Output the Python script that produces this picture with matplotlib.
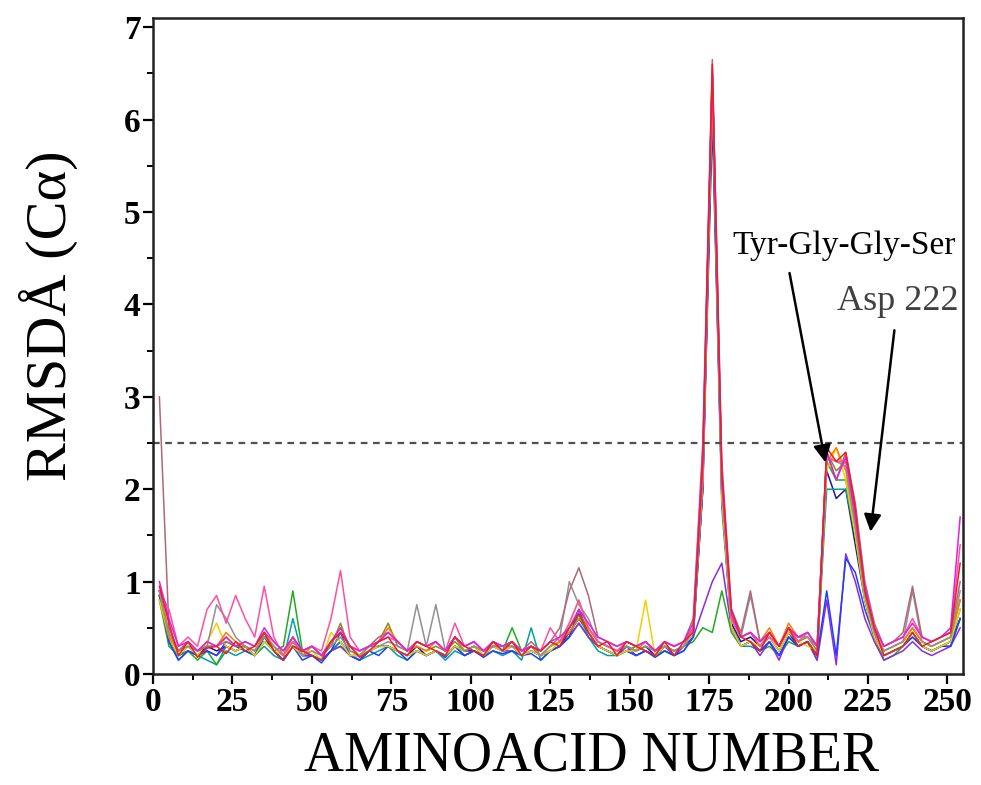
import numpy as np
import matplotlib
matplotlib.use("Agg")
import matplotlib.pyplot as plt
from matplotlib.ticker import MultipleLocator

plt.rcParams['font.family'] = ['Liberation Serif', 'DejaVu Serif']

# residue numbers (sampled every 3 residues)
residues = np.arange(2, 256, 3)

red = [0.95, 0.55, 0.2, 0.35, 0.18, 0.28, 0.3, 0.22, 0.35, 0.25,
       0.3, 0.45, 0.25, 0.15, 0.3, 0.25, 0.2, 0.15, 0.35, 0.45,
       0.3, 0.18, 0.25, 0.35, 0.4, 0.25, 0.2, 0.35, 0.3, 0.25,
       0.2, 0.4, 0.3, 0.25, 0.2, 0.35, 0.25, 0.35, 0.2, 0.3,
       0.25, 0.35, 0.3, 0.5, 0.65, 0.45, 0.3, 0.35, 0.2, 0.35,
       0.3, 0.25, 0.2, 0.35, 0.2, 0.35, 0.45, 2.3, 6.6, 2.2,
       0.7, 0.4, 0.35, 0.25, 0.45, 0.3, 0.5, 0.3, 0.35, 0.2,
       2.45, 2.3, 2.4, 1.8, 0.9, 0.5, 0.2, 0.25, 0.3, 0.45,
       0.3, 0.35, 0.4, 0.45, 1.2]
blue = [0.85, 0.35, 0.15, 0.25, 0.2, 0.25, 0.2, 0.35, 0.3, 0.25,
        0.2, 0.45, 0.25, 0.15, 0.3, 0.15, 0.2, 0.12, 0.25, 0.45,
        0.2, 0.15, 0.25, 0.2, 0.3, 0.25, 0.15, 0.25, 0.2, 0.25,
        0.18, 0.3, 0.2, 0.25, 0.18, 0.25, 0.22, 0.25, 0.2, 0.22,
        0.15, 0.25, 0.3, 0.4, 0.7, 0.45, 0.3, 0.25, 0.2, 0.25,
        0.2, 0.25, 0.18, 0.25, 0.2, 0.25, 0.4, 2.0, 6.3, 1.9,
        0.5, 0.3, 0.35, 0.25, 0.35, 0.2, 0.4, 0.3, 0.35, 0.2,
        0.9, 0.2, 1.25, 1.1, 0.7, 0.4, 0.2, 0.25, 0.3, 0.4,
        0.3, 0.25, 0.3, 0.3, 0.6]
green = [0.8, 0.3, 0.2, 0.25, 0.15, 0.25, 0.1, 0.3, 0.25, 0.3,
         0.2, 0.35, 0.25, 0.3, 0.9, 0.25, 0.2, 0.15, 0.25, 0.3,
         0.2, 0.15, 0.25, 0.3, 0.3, 0.25, 0.2, 0.25, 0.2, 0.25,
         0.2, 0.3, 0.25, 0.3, 0.2, 0.35, 0.25, 0.5, 0.25, 0.3,
         0.2, 0.25, 0.3, 0.4, 0.55, 0.4, 0.3, 0.25, 0.2, 0.25,
         0.3, 0.25, 0.2, 0.25, 0.2, 0.3, 0.35, 0.5, 0.45, 0.9,
         0.45, 0.3, 0.35, 0.25, 0.3, 0.2, 0.35, 0.3, 0.35, 0.15,
         2.3, 2.1, 2.1, 1.5, 0.8, 0.4, 0.15, 0.2, 0.3, 0.45,
         0.3, 0.25, 0.3, 0.35, 0.7]
magenta = [1.0, 0.6, 0.3, 0.35, 0.25, 0.35, 0.3, 0.4, 0.3, 0.35,
           0.3, 0.5, 0.35, 0.25, 0.4, 0.25, 0.3, 0.2, 0.35, 0.5,
           0.3, 0.25, 0.3, 0.35, 0.45, 0.35, 0.25, 0.35, 0.3, 0.35,
           0.25, 0.4, 0.3, 0.35, 0.25, 0.35, 0.3, 0.35, 0.25, 0.3,
           0.25, 0.35, 0.4, 0.5, 0.7, 0.55, 0.4, 0.35, 0.3, 0.35,
           0.3, 0.35, 0.25, 0.35, 0.3, 0.35, 0.55, 2.4, 6.5, 2.1,
           0.65, 0.4, 0.45, 0.35, 0.45, 0.3, 0.5, 0.4, 0.45, 0.3,
           2.4, 2.1, 2.35, 1.7, 0.95, 0.5, 0.3, 0.35, 0.4, 0.55,
           0.4, 0.35, 0.4, 0.5, 1.7]
orange = [0.9, 0.4, 0.25, 0.3, 0.25, 0.35, 0.3, 0.45, 0.35, 0.3,
          0.25, 0.45, 0.3, 0.2, 0.4, 0.2, 0.3, 0.2, 0.35, 0.5,
          0.3, 0.2, 0.3, 0.35, 0.5, 0.35, 0.25, 0.3, 0.25, 0.35,
          0.25, 0.4, 0.25, 0.3, 0.25, 0.3, 0.3, 0.35, 0.25, 0.3,
          0.2, 0.3, 0.35, 0.45, 0.6, 0.5, 0.35, 0.3, 0.25, 0.3,
          0.25, 0.35, 0.25, 0.3, 0.25, 0.3, 0.5, 2.1, 6.4, 2.0,
          0.6, 0.4, 0.45, 0.35, 0.5, 0.3, 0.55, 0.4, 0.4, 0.3,
          2.3, 2.45, 2.2, 1.6, 0.85, 0.45, 0.25, 0.3, 0.35, 0.5,
          0.35, 0.3, 0.35, 0.4, 0.8]
purple = [0.9, 0.4, 0.2, 0.3, 0.2, 0.25, 0.2, 0.3, 0.25, 0.3,
          0.2, 0.35, 0.25, 0.15, 0.3, 0.2, 0.2, 0.15, 0.25, 0.3,
          0.2, 0.15, 0.25, 0.3, 0.3, 0.25, 0.2, 0.25, 0.2, 0.25,
          0.2, 0.3, 0.2, 0.25, 0.2, 0.3, 0.25, 0.25, 0.2, 0.25,
          0.2, 0.25, 0.3, 0.4, 0.55, 0.4, 0.3, 0.25, 0.2, 0.3,
          0.2, 0.25, 0.2, 0.3, 0.2, 0.3, 0.4, 0.7, 1.0, 1.2,
          0.5, 0.3, 0.35, 0.2, 0.35, 0.15, 0.4, 0.3, 0.35, 0.15,
          0.8, 0.1, 1.3, 1.0, 0.6, 0.35, 0.15, 0.2, 0.25, 0.35,
          0.25, 0.2, 0.25, 0.3, 0.5]
hotpink = [0.9, 0.7, 0.3, 0.4, 0.3, 0.7, 0.85, 0.55, 0.85, 0.6,
           0.4, 0.95, 0.4, 0.2, 0.35, 0.25, 0.3, 0.25, 0.6, 1.12,
           0.4, 0.25, 0.3, 0.35, 0.4, 0.35, 0.25, 0.35, 0.3, 0.35,
           0.25, 0.55, 0.3, 0.35, 0.25, 0.35, 0.3, 0.35, 0.25, 0.3,
           0.25, 0.5, 0.35, 0.55, 0.8, 0.5, 0.35, 0.3, 0.25, 0.35,
           0.3, 0.35, 0.25, 0.35, 0.3, 0.35, 0.5, 2.2, 6.55, 2.1,
           0.6, 0.4, 0.45, 0.3, 0.4, 0.3, 0.5, 0.35, 0.45, 0.3,
           2.35, 2.3, 2.3, 1.75, 0.9, 0.5, 0.3, 0.35, 0.4, 0.6,
           0.4, 0.35, 0.4, 0.45, 1.4]
rosybrown = [3.0, 0.5, 0.25, 0.35, 0.25, 0.3, 0.3, 0.35, 0.3, 0.35,
             0.3, 0.45, 0.35, 0.25, 0.4, 0.25, 0.3, 0.2, 0.35, 0.45,
             0.3, 0.25, 0.3, 0.4, 0.45, 0.35, 0.25, 0.35, 0.3, 0.35,
             0.25, 0.4, 0.3, 0.35, 0.25, 0.35, 0.3, 0.35, 0.25, 0.35,
             0.25, 0.35, 0.5, 0.9, 1.15, 0.85, 0.4, 0.35, 0.3, 0.35,
             0.3, 0.35, 0.25, 0.35, 0.3, 0.35, 0.6, 2.5, 6.65, 2.3,
             0.7, 0.45, 0.9, 0.35, 0.45, 0.3, 0.5, 0.4, 0.45, 0.3,
             2.4, 2.1, 2.4, 1.85, 1.0, 0.55, 0.3, 0.35, 0.45, 0.95,
             0.4, 0.35, 0.4, 0.45, 1.0]
yellow = [0.8, 0.4, 0.2, 0.3, 0.2, 0.35, 0.55, 0.3, 0.25, 0.3,
          0.2, 0.35, 0.25, 0.2, 0.3, 0.2, 0.25, 0.15, 0.45, 0.35,
          0.2, 0.2, 0.25, 0.3, 0.3, 0.25, 0.2, 0.25, 0.2, 0.25,
          0.2, 0.3, 0.25, 0.3, 0.2, 0.3, 0.25, 0.3, 0.2, 0.25,
          0.2, 0.25, 0.35, 0.55, 0.8, 0.45, 0.3, 0.25, 0.2, 0.25,
          0.25, 0.8, 0.2, 0.3, 0.25, 0.3, 0.45, 2.1, 6.4, 1.9,
          0.5, 0.3, 0.35, 0.3, 0.4, 0.25, 0.45, 0.35, 0.3, 0.25,
          2.2, 2.45, 2.1, 1.5, 0.8, 0.4, 0.2, 0.25, 0.3, 0.45,
          0.3, 0.25, 0.3, 0.35, 0.7]
teal = [0.85, 0.35, 0.15, 0.25, 0.2, 0.15, 0.1, 0.25, 0.2, 0.25,
        0.2, 0.3, 0.2, 0.15, 0.6, 0.2, 0.2, 0.15, 0.25, 0.35,
        0.2, 0.15, 0.2, 0.25, 0.3, 0.2, 0.15, 0.25, 0.2, 0.25,
        0.15, 0.25, 0.2, 0.25, 0.2, 0.25, 0.2, 0.25, 0.15, 0.5,
        0.15, 0.25, 0.3, 0.4, 0.65, 0.4, 0.25, 0.2, 0.2, 0.25,
        0.2, 0.25, 0.2, 0.25, 0.2, 0.25, 0.4, 2.0, 6.2, 1.8,
        0.5, 0.3, 0.3, 0.25, 0.35, 0.2, 0.4, 0.3, 0.35, 0.2,
        2.0, 2.0, 2.0, 1.5, 0.85, 0.4, 0.2, 0.25, 0.3, 0.4,
        0.3, 0.25, 0.3, 0.3, 0.6]
gray = [0.9, 0.45, 0.25, 0.3, 0.25, 0.3, 0.75, 0.6, 0.4, 0.3,
        0.25, 0.4, 0.3, 0.2, 0.35, 0.2, 0.25, 0.2, 0.3, 0.4,
        0.25, 0.2, 0.3, 0.3, 0.35, 0.3, 0.25, 0.75, 0.3, 0.75,
        0.25, 0.4, 0.25, 0.3, 0.25, 0.3, 0.3, 0.3, 0.25, 0.3,
        0.2, 0.3, 0.4, 1.0, 0.75, 0.6, 0.35, 0.3, 0.25, 0.3,
        0.25, 0.3, 0.25, 0.3, 0.25, 0.3, 0.5, 2.3, 6.5, 2.1,
        0.6, 0.4, 0.85, 0.35, 0.45, 0.3, 0.5, 0.4, 0.4, 0.3,
        2.35, 2.3, 2.25, 1.6, 0.85, 0.45, 0.25, 0.3, 0.35, 0.9,
        0.35, 0.3, 0.35, 0.4, 0.9]
navy = [0.85, 0.4, 0.2, 0.25, 0.2, 0.3, 0.25, 0.3, 0.25, 0.3,
        0.2, 0.4, 0.25, 0.15, 0.3, 0.2, 0.2, 0.15, 0.25, 0.35,
        0.2, 0.2, 0.25, 0.3, 0.3, 0.25, 0.2, 0.3, 0.2, 0.25,
        0.2, 0.3, 0.25, 0.25, 0.2, 0.3, 0.25, 0.3, 0.2, 0.25,
        0.2, 0.25, 0.3, 0.45, 0.6, 0.45, 0.3, 0.25, 0.2, 0.3,
        0.25, 0.3, 0.2, 0.3, 0.25, 0.3, 0.45, 2.0, 6.0, 1.9,
        0.55, 0.35, 0.4, 0.3, 0.4, 0.25, 0.45, 0.3, 0.35, 0.2,
        2.2, 1.9, 2.0, 1.4, 0.8, 0.4, 0.2, 0.25, 0.3, 0.45,
        0.3, 0.25, 0.3, 0.35, 0.6]
olive = [0.9, 0.45, 0.25, 0.35, 0.25, 0.3, 0.3, 0.4, 0.3, 0.3,
         0.25, 0.4, 0.3, 0.2, 0.35, 0.25, 0.3, 0.2, 0.3, 0.55,
         0.25, 0.2, 0.3, 0.35, 0.55, 0.3, 0.25, 0.3, 0.25, 0.3,
         0.25, 0.35, 0.25, 0.3, 0.25, 0.3, 0.3, 0.3, 0.25, 0.3,
         0.2, 0.3, 0.35, 0.5, 0.65, 0.5, 0.35, 0.3, 0.25, 0.3,
         0.25, 0.3, 0.25, 0.3, 0.25, 0.3, 0.5, 2.2, 6.5, 2.1,
         0.6, 0.4, 0.45, 0.3, 0.45, 0.3, 0.5, 0.35, 0.4, 0.25,
         2.4, 2.2, 2.3, 1.65, 0.9, 0.45, 0.25, 0.3, 0.35, 0.5,
         0.35, 0.3, 0.35, 0.4, 0.8]

series = [
    (navy, '#1a1a8c'), (teal, '#00a0a0'), (green, '#22aa22'),
    (purple, '#8a2be2'), (blue, '#1f3fff'), (yellow, '#f0d000'),
    (olive, '#8a8a20'), (orange, '#ff7f00'), (gray, '#909090'),
    (rosybrown, '#b06878'), (hotpink, '#ff4fa0'), (magenta, '#e020e0'),
    (red, '#e8202a'),
]

cutoff = 2.5

fig = plt.figure(figsize=(9.81, 7.85), dpi=100)
ax = fig.add_axes([0.156, 0.1414, 0.826, 0.8356])

for vals, col in series:
    ax.plot(residues, vals, color=col, lw=1.1)

ax.axhline(cutoff, color='#505050', lw=1.6, ls=(0, (3, 2.5)))

ax.set_xlim(0, 255)
ax.set_ylim(0, 7.1)
ax.xaxis.set_major_locator(MultipleLocator(25))
ax.xaxis.set_minor_locator(MultipleLocator(12.5))
ax.yaxis.set_major_locator(MultipleLocator(1))
ax.yaxis.set_minor_locator(MultipleLocator(0.5))
ax.tick_params(which='major', direction='out', length=7, width=1.6,
               labelsize=24, pad=2, top=False, right=False)
ax.tick_params(which='minor', direction='out', length=4.5, width=1.4,
               top=False, right=False)
for lab in ax.get_xticklabels() + ax.get_yticklabels():
    lab.set_fontweight('bold')
for s in ax.spines.values():
    s.set_linewidth(1.8)
    s.set_color('#222222')

ax.set_xlabel('AMINOACID NUMBER', fontsize=40)
ax.set_ylabel('RMSDÅ (Cα)', fontsize=42)
ax.xaxis.set_label_coords(0.541, -0.086)
ax.yaxis.set_label_coords(-0.092, 0.547)

ax.text(217.6, 4.64, 'Tyr-Gly-Gly-Ser', fontsize=24, ha='center',
        va='center', color='black')
ax.text(234.3, 4.03, 'Asp 222', fontsize=26, ha='center', va='center',
        color='#404040')
ax.annotate('', xy=(211.6, 2.29), xytext=(200.3, 4.34),
            arrowprops=dict(arrowstyle='-|>', color='black', lw=1.8,
                            mutation_scale=26, shrinkA=0, shrinkB=0))
ax.annotate('', xy=(225.8, 1.54), xytext=(233.3, 3.72),
            arrowprops=dict(arrowstyle='-|>', color='black', lw=1.8,
                            mutation_scale=26, shrinkA=0, shrinkB=0))

fig.savefig('out.png', dpi=100)
